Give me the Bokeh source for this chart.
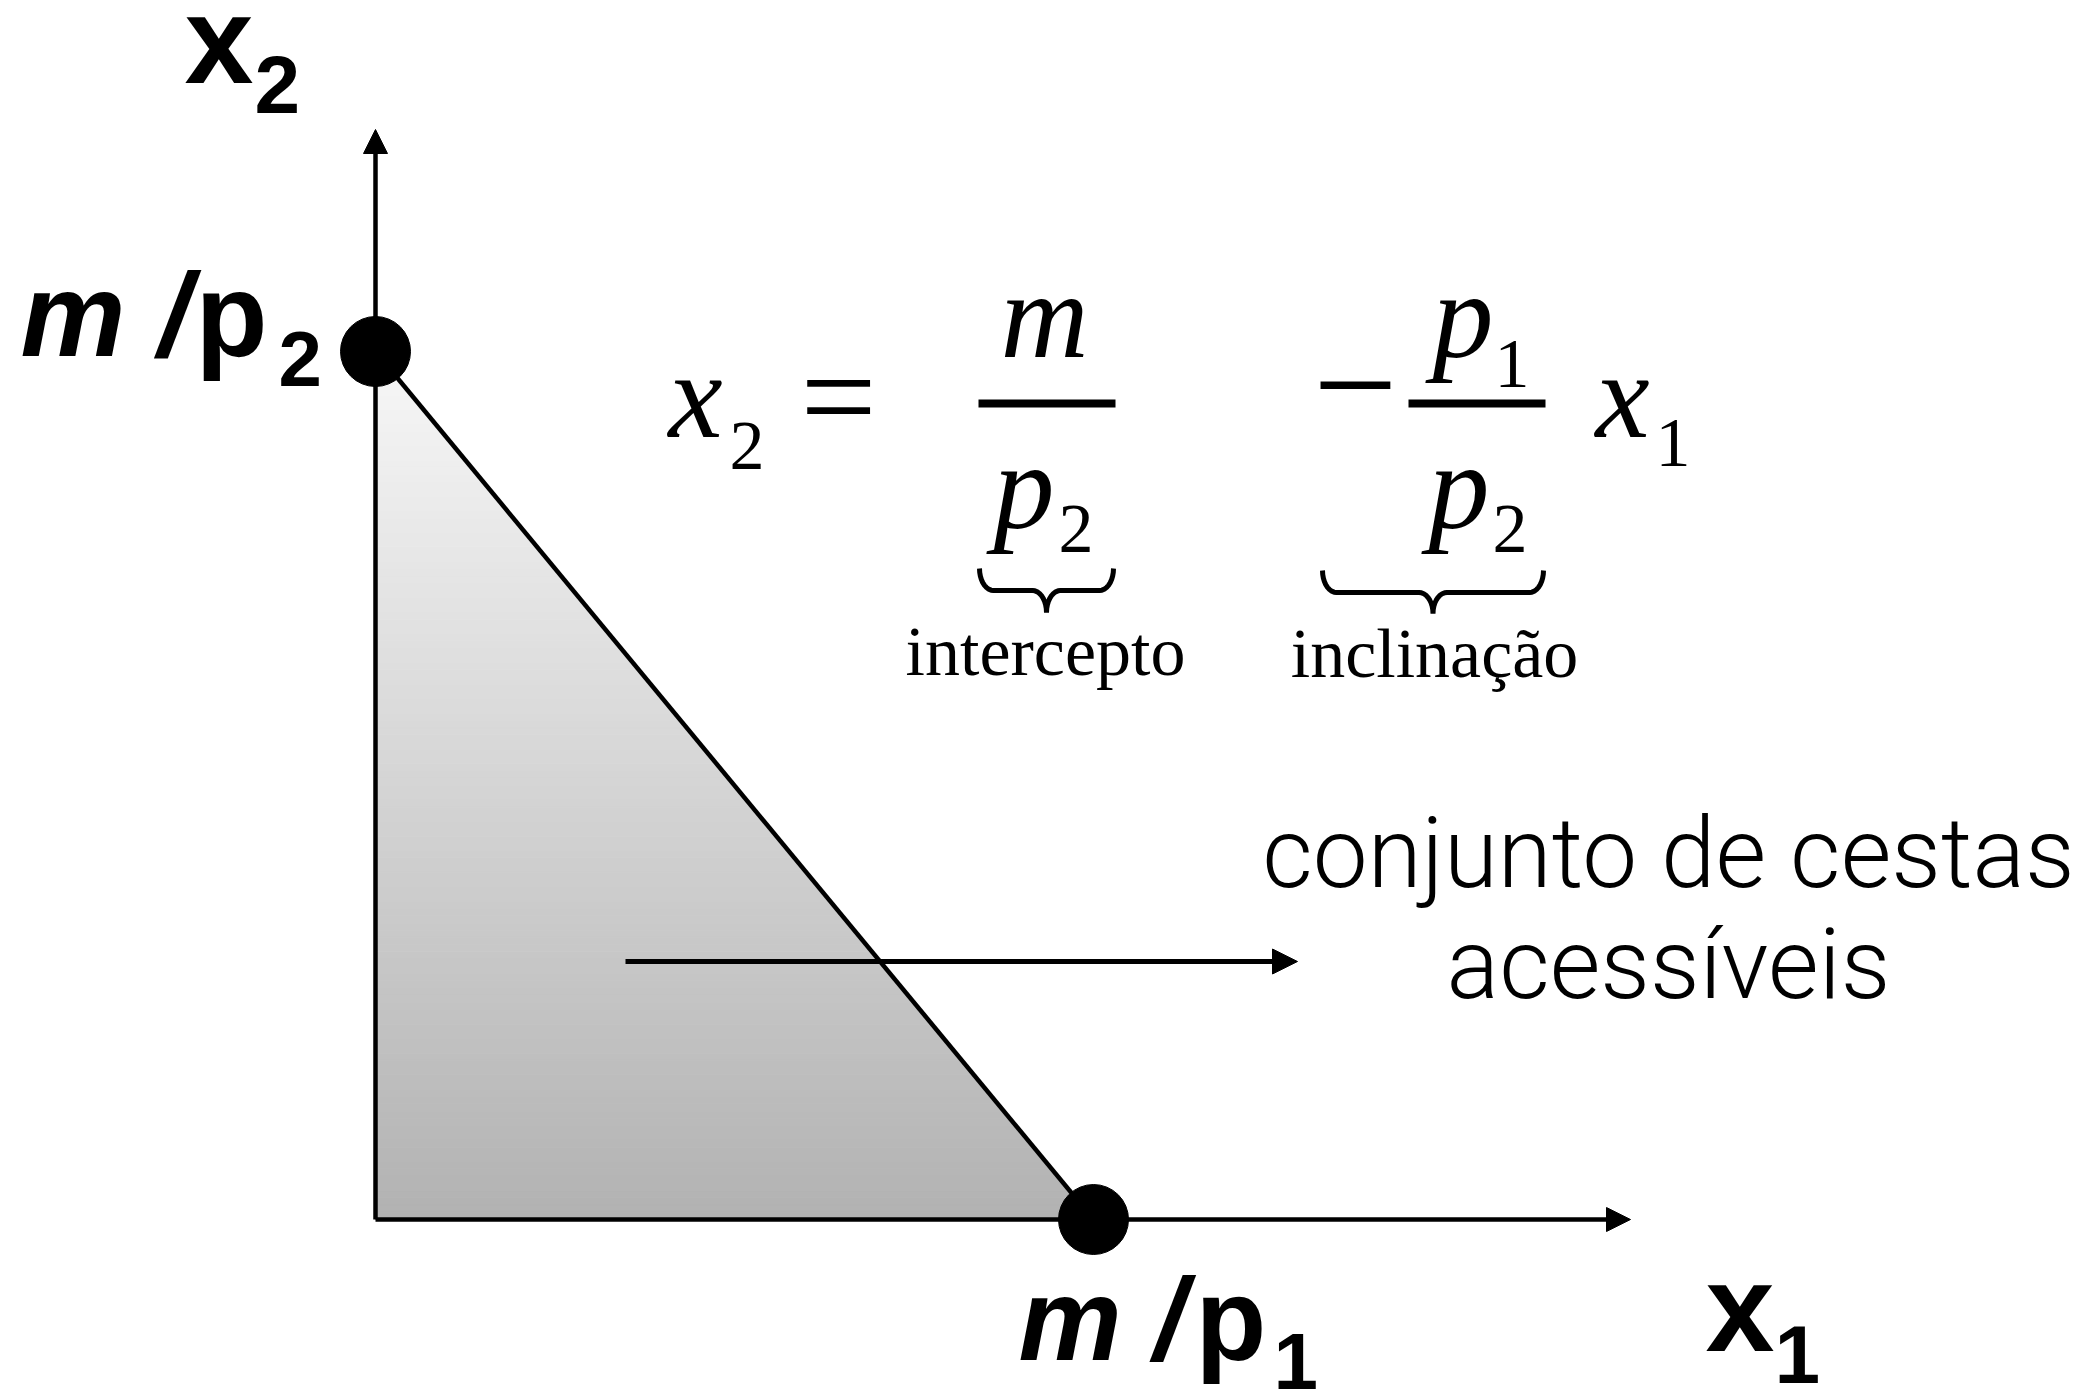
import numpy as np
from bokeh.plotting import figure
from bokeh.models import Arrow, NormalHead, Range1d
from bokeh.core.properties import value
from bokeh.embed import file_html
from bokeh.resources import INLINE

# ---------------- data ----------------
m = 120.0          # income
p1 = 12.0          # price of good 1
p2 = 10.0          # price of good 2
x1_intercept = m / p1   # m/p1
x2_intercept = m / p2   # m/p2

axis_names = ["x", "x"]
axis_subs = ["1", "2"]
intercept_labels = ["m /", "p"]
intercept_subs = ["1", "2"]
brace_labels = ["intercepto", "inclinação"]
set_label = ["conjunto de cestas", "acessíveis"]

# ---------------- layout (reference pixel positions) ----------------
W, H = 2099, 1391
OX, OY = 375.0, 1219.0            # origin in page pixels
XI_PX, YI_PX = 1093.0, 351.0      # intercept pixels
sx = (XI_PX - OX) / x1_intercept
sy = (OY - YI_PX) / x2_intercept
BASE_SHIFT = 0.345                # text baseline correction (fraction of font size)


def X(px):
    return (px - OX) / sx


def Y(py):
    return (OY - py) / sy


p = figure(width=W, height=H, output_backend="svg", toolbar_location=None,
           x_range=Range1d(X(0), X(W)), y_range=Range1d(Y(H), Y(0)),
           min_border=0, outline_line_color=None, background_fill_color="white",
           border_fill_color="white")
p.xaxis.visible = False
p.yaxis.visible = False
p.grid.visible = False

# ---------------- gradient filled budget set ----------------
n = 120
ys = np.linspace(0, x2_intercept, n + 1)
xs_patch, ys_patch, cols = [], [], []
top_g, bot_g = 247, 178
for i in range(n):
    ya, yb = ys[i], ys[i + 1]
    xa = (m - p2 * ya) / p1
    xb = (m - p2 * yb) / p1
    xs_patch.append([0, xa, xb, 0])
    ys_patch.append([ya, ya, yb, yb])
    t = (ya + yb) / 2 / x2_intercept
    g = int(round(bot_g + (top_g - bot_g) * t))
    cols.append("#%02x%02x%02x" % (g, g, g))
p.patches(xs_patch, ys_patch, fill_color=cols, line_color=cols, line_width=1)

# ---------------- axes ----------------
p.add_layout(Arrow(end=NormalHead(size=24, fill_color="black", line_color="black"),
                   x_start=0, y_start=0, x_end=0, y_end=Y(129),
                   line_width=4.5, line_color="black"))
p.add_layout(Arrow(end=NormalHead(size=24, fill_color="black", line_color="black"),
                   x_start=0, y_start=0, x_end=X(1630), y_end=0,
                   line_width=4.5, line_color="black"))

# budget line
p.line([0, x1_intercept], [x2_intercept, 0], line_width=4.5, line_color="black")

# pointer arrow
p.add_layout(Arrow(end=NormalHead(size=25, fill_color="black", line_color="black"),
                   x_start=X(625), y_start=Y(961), x_end=X(1297), y_end=Y(961),
                   line_width=5, line_color="black"))

# intercept dots
p.scatter([0, x1_intercept], [x2_intercept, 0], size=70, color="black")

SANS = value("Liberation Sans")
SERIF = value("Liberation Serif")
LIGHT = value("Roboto Light, Roboto, sans-serif")


def txt(px, py, s, font, size, style="normal", align="left"):
    yy = py - BASE_SHIFT * size
    p.text([X(px)], [Y(yy)], text=[s], text_font=font, text_font_size=f"{size}px",
           text_font_style=style, text_align=align, text_baseline="alphabetic",
           text_color="black")


# axis labels
txt(184, 82, axis_names[1], SANS, 124, "bold")
txt(254, 112, axis_subs[1], SANS, 82, "bold")
txt(1705, 1350, axis_names[0], SANS, 124, "bold")
txt(1774, 1382, axis_subs[0], SANS, 82, "bold")

# intercept labels
txt(20, 355, intercept_labels[0], SANS, 118, "bold italic")
txt(195, 355, intercept_labels[1], SANS, 118, "bold")
txt(278, 385, intercept_subs[1], SANS, 78, "bold")
txt(1018, 1360, intercept_labels[0], SANS, 116, "bold italic")
txt(1195, 1360, intercept_labels[1], SANS, 116, "bold")
txt(1273, 1389, intercept_subs[0], SANS, 80, "bold")

# equation
txt(668, 437, "x", SERIF, 122, "italic")
txt(729, 470, "2", SERIF, 70)
txt(838, 443, "=", SERIF, 135, align="center")
txt(1044, 357, "m", SERIF, 122, "italic", align="center")
txt(993, 528, "p", SERIF, 122, "italic")
txt(1058, 553, "2", SERIF, 70)
txt(1355, 437, "\u2212", SERIF, 150, align="center")
txt(1432, 357, "p", SERIF, 122, "italic")
txt(1494, 388, "1", SERIF, 70)
txt(1428, 528, "p", SERIF, 122, "italic")
txt(1492, 553, "2", SERIF, 70)
txt(1595, 437, "x", SERIF, 122, "italic")
txt(1655, 467, "1", SERIF, 70)

# fraction bars
p.segment([X(978), X(1408)], [Y(403), Y(403)], [X(1115), X(1545)], [Y(403), Y(403)],
          line_width=8, line_color="black")


# braces
def brace(x0, x1, top, mid, tip, r=14):
    xc = (x0 + x1) / 2
    pts = []
    a = np.linspace(0, np.pi / 2, 10)
    for t in a:
        pts.append((x0 + r - r * np.cos(t), mid - (mid - top) * (1 - np.sin(t))))
    for t in a:
        pts.append((xc - r + r * np.sin(t), mid + (tip - mid) * (1 - np.cos(t))))
    for t in a[::-1]:
        pts.append((xc + r - r * np.sin(t), mid + (tip - mid) * (1 - np.cos(t))))
    for t in a[::-1]:
        pts.append((x1 - r + r * np.cos(t), mid - (mid - top) * (1 - np.sin(t))))
    return [X(q[0]) for q in pts], [Y(q[1]) for q in pts]


bx1, by1 = brace(979, 1113, 568, 590, 612)
bx2, by2 = brace(1322, 1543, 570, 592, 613)
p.multi_line([bx1, bx2], [by1, by2], line_width=5, line_color="black")

txt(1045, 675, brace_labels[0], SERIF, 70, align="center")
txt(1434, 677, brace_labels[1], SERIF, 70, align="center")

# budget set label
txt(1668, 887, set_label[0], LIGHT, 98, align="center")
txt(1668, 998, set_label[1], LIGHT, 98, align="center")

open("out.html", "w").write(file_html(p, INLINE))
